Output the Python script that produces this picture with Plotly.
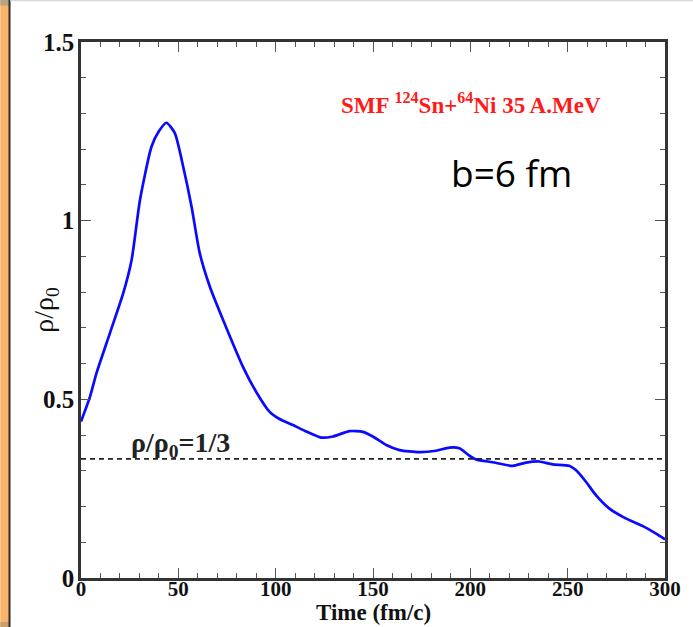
import plotly.graph_objects as go

# Data
time_fm = [0, 4.6, 8, 14.9, 21.7, 26, 30.3, 36.2, 40, 43.9, 48.2, 52.5, 56.8, 61,
           66.2, 73, 83.2, 90.1, 96.9, 102, 108.9, 115.7, 123.4, 129.4, 138, 144.8,
           149.9, 156.8, 163.6, 173.8, 182.4, 189.2, 194.4, 199.1, 202.9, 211.4,
           221.7, 228.6, 235.4, 242.2, 250.8, 254.2, 259.3, 264.5, 271.3, 279.8,
           288.4, 295.2, 300]
rho_ratio = [0.438, 0.507, 0.574, 0.686, 0.797, 0.89, 1.058, 1.207, 1.25, 1.274,
             1.245, 1.151, 1.039, 0.909, 0.815, 0.722, 0.591, 0.52, 0.465, 0.445,
             0.428, 0.41, 0.393, 0.396, 0.411, 0.409, 0.396, 0.372, 0.358, 0.352,
             0.356, 0.365, 0.363, 0.344, 0.332, 0.324, 0.314, 0.323, 0.326, 0.318,
             0.314, 0.302, 0.27, 0.232, 0.195, 0.167, 0.146, 0.125, 0.108]
threshold = 1 / 3
x_range = [0, 300]
y_range = [0, 1.5]
x_ticks = [0, 50, 100, 150, 200, 250, 300]
y_ticks = [0, 0.5, 1, 1.5]
y_ticklabels = ["0", "0.5", "1", "1.5"]

serif = "Liberation Serif, Times New Roman, serif"

fig = go.Figure()
fig.add_trace(go.Scatter(
    x=time_fm, y=rho_ratio, mode="lines",
    line=dict(color="#0a0aff", width=2.7, shape="spline", smoothing=0.6),
    hoverinfo="skip", showlegend=False))
fig.add_trace(go.Scatter(
    x=[x_range[0], x_range[1] - 1], y=[threshold, threshold], mode="lines",
    line=dict(color="#222222", width=1.6, dash="5px,4px"),
    hoverinfo="skip", showlegend=False))

axis_common = dict(
    showline=True, linecolor="#333333", linewidth=2.5, mirror="ticks",
    ticks="inside", ticklen=10, tickwidth=1.2, tickcolor="#555555",
    showgrid=False, zeroline=False,
)
fig.update_xaxes(range=x_range, tickvals=x_ticks, ticklabelstandoff=-10,
                 minor=dict(dtick=10, ticklen=5, ticks="inside", tickcolor="#555555", tickwidth=1),
                 tickfont=dict(family=serif, size=21, color="#111111", weight="bold"),
                 **axis_common)
fig.update_yaxes(range=y_range, tickvals=y_ticks, ticktext=y_ticklabels, ticklabelstandoff=-1,
                 minor=dict(dtick=0.1, ticklen=5, ticks="inside", tickcolor="#555555", tickwidth=1),
                 tickfont=dict(family=serif, size=25, color="#111111", weight="bold"),
                 **axis_common)

annotations = [
    dict(text="<b>Time (fm/c)</b>", x=0.5, y=-0.0905, xref="paper", yref="paper",
         xanchor="center", yanchor="bottom", showarrow=False,
         font=dict(family=serif, size=23, color="#111111")),
    dict(text="ρ/ρ<sub>0</sub>", x=-0.062, y=0.5, xref="paper", yref="paper",
         xanchor="center", yanchor="middle", showarrow=False, textangle=-90,
         font=dict(family=serif, size=28, color="#111111")),
    dict(text="<b>SMF <sup>124</sup>Sn+<sup>64</sup>Ni 35 A.MeV</b>", x=0.667, y=0.886,
         xref="paper", yref="paper", xanchor="center", yanchor="middle", showarrow=False,
         font=dict(family=serif, size=23, color="#ff1a1a")),
    dict(text="b=6 fm", x=0.737, y=0.757, xref="paper", yref="paper",
         xanchor="center", yanchor="middle", showarrow=False,
         font=dict(family="Open Sans, sans-serif", size=37, color="#000000")),
    dict(text="<b>ρ/ρ<sub>0</sub>=1/3</b>", x=0.082, y=0.250, xref="paper", yref="paper",
         xanchor="left", yanchor="middle", showarrow=False,
         font=dict(family=serif, size=28, color="#222222")),
]

# Left slide-background strip
shapes = [
    dict(type="rect", xref="paper", yref="paper", x0=-0.1382, x1=-0.1229,
         y0=-0.0915, y1=1.0785, fillcolor="#f9b46a", line=dict(width=0), layer="below"),
    dict(type="rect", xref="paper", yref="paper", x0=-0.1382, x1=-0.1229,
         y0=1.068, y1=1.0785, fillcolor="#b9a283", line=dict(width=0), layer="below"),
    dict(type="rect", xref="paper", yref="paper", x0=-0.1382, x1=-0.1229,
         y0=-0.0915, y1=-0.082, fillcolor="#c8a06a", line=dict(width=0), layer="below"),
    dict(type="line", xref="paper", yref="paper", x0=-0.1224, x1=-0.1224,
         y0=-0.0915, y1=1.0785, line=dict(color="#2a2a2a", width=2)),
    dict(type="line", xref="paper", yref="paper", x0=-0.1215, x1=1.05,
         y0=1.0775, y1=1.0775, line=dict(color="#d8d8d8", width=1.5)),
]

fig.update_layout(
    width=693, height=627,
    margin=dict(l=81, r=26, t=42, b=49),
    paper_bgcolor="white", plot_bgcolor="white",
    annotations=annotations, shapes=shapes,
    showlegend=False,
)

fig.write_html("out.html")
